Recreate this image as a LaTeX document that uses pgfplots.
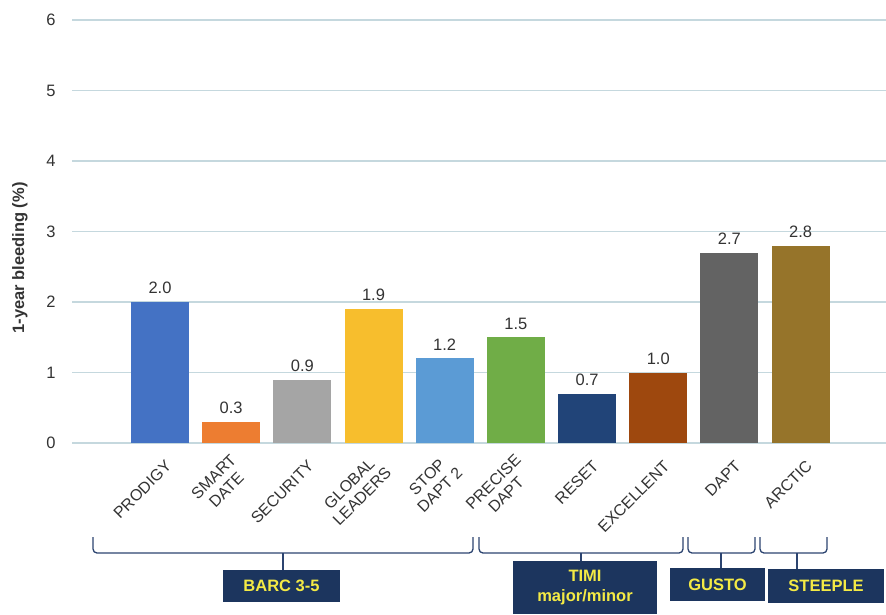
\documentclass[border=0pt]{standalone}
\usepackage{pgfplots}
\pgfplotsset{compat=1.18}
\usepackage{fontspec}
\setmainfont{Liberation Sans}
\definecolor{cA}{HTML}{4472C4}
\definecolor{cB}{HTML}{ED7D31}
\definecolor{cC}{HTML}{A5A5A5}
\definecolor{cD}{HTML}{F7BE2D}
\definecolor{cE}{HTML}{5B9BD5}
\definecolor{cF}{HTML}{70AD47}
\definecolor{cG}{HTML}{214478}
\definecolor{cH}{HTML}{9E480E}
\definecolor{cI}{HTML}{636363}
\definecolor{cJ}{HTML}{96742A}
\definecolor{gridc}{HTML}{C5D8DE}
\definecolor{txt}{HTML}{333333}
\definecolor{boxc}{HTML}{1C355E}
\definecolor{boxt}{HTML}{F4EA45}
\definecolor{brk}{HTML}{2C4470}
\begin{document}
\begin{tikzpicture}
\useasboundingbox (0pt,0pt) rectangle (886pt,-614pt);
\begin{axis}[at={(72pt,-443pt)}, anchor=south west, scale only axis,
  width=814pt, height=423pt,
  xmin=-1.236, xmax=10.2, ymin=0, ymax=6,
  ytick={0,1,2,3,4,5,6},
  xtick={0,1,2,3,4,5,6,7,8,9},
  xticklabels={PRODIGY,{SMART\\DATE},SECURITY,{GLOBAL\\LEADERS},{STOP\\DAPT 2},{PRECISE\\DAPT},RESET,EXCELLENT,DAPT,ARCTIC},
  ymajorgrids, grid style={gridc, line width=1.2pt},
  axis line style={draw=none}, major tick length=0pt,
  yticklabel style={font=\fontsize{16.5}{18}\selectfont, text=txt, xshift=-13pt},
  xticklabel style={font=\fontsize{16}{18}\selectfont, text=txt, align=center,
     xshift=11pt, yshift=-18pt, rotate=45, anchor=east},
  /pgf/number format/assume math mode=true,
  ybar, bar width=58pt,
  nodes near coords, nodes near coords align={vertical},
  every node near coord/.append style={font=\fontsize{16.5}{19}\selectfont, text=txt, yshift=4.5pt,
     /pgf/number format/fixed, /pgf/number format/fixed zerofill, /pgf/number format/precision=1},
  clip=false,
]
\addplot[fill=cA, draw=none, bar shift=0pt] coordinates {(0,2.0)};
\addplot[fill=cB, draw=none, bar shift=0pt] coordinates {(1,0.3)};
\addplot[fill=cC, draw=none, bar shift=0pt] coordinates {(2,0.9)};
\addplot[fill=cD, draw=none, bar shift=0pt] coordinates {(3,1.9)};
\addplot[fill=cE, draw=none, bar shift=0pt] coordinates {(4,1.2)};
\addplot[fill=cF, draw=none, bar shift=0pt] coordinates {(5,1.5)};
\addplot[fill=cG, draw=none, bar shift=0pt] coordinates {(6,0.7)};
\addplot[fill=cH, draw=none, bar shift=0pt] coordinates {(7,1.0)};
\addplot[fill=cI, draw=none, bar shift=0pt] coordinates {(8,2.7)};
\addplot[fill=cJ, draw=none, bar shift=0pt] coordinates {(9,2.8)};
\end{axis}
\begin{scope}[x=1pt,y=-1pt]
\node[rotate=90, font=\fontsize{16.5}{19}\selectfont\bfseries, text=txt] at (20,258) {1-year bleeding (\%)};
\tikzset{br/.style={draw=brk, line width=1.3pt, rounded corners=4pt}}
% BARC
\draw[br] (93,537) -- (93,553) -- (473,553) -- (473,537);
\draw[brk, line width=1.3pt] (283,553) -- (283,570);
\fill[boxc] (223,570) rectangle (340,602);
\node[text=boxt, font=\fontsize{16.5}{19}\selectfont\bfseries] at (281.5,586) {BARC 3-5};
% TIMI
\draw[br] (479,537) -- (479,553) -- (683,553) -- (683,537);
\draw[brk, line width=1.3pt] (581,553) -- (581,561);
\fill[boxc] (513,561) rectangle (657,614);
\node[text=boxt, align=center, font=\fontsize{16.5}{20}\selectfont\bfseries] at (585,587.5) {TIMI\\major/minor};
% GUSTO
\draw[br] (688,537) -- (688,553) -- (755,553) -- (755,537);
\draw[brk, line width=1.3pt] (721,553) -- (721,568);
\fill[boxc] (670,568) rectangle (765,601);
\node[text=boxt, font=\fontsize{16.5}{19}\selectfont\bfseries] at (717.5,584.5) {GUSTO};
% STEEPLE
\draw[br] (760,537) -- (760,553) -- (827,553) -- (827,537);
\draw[brk, line width=1.3pt] (797,553) -- (797,569);
\fill[boxc] (768,569) rectangle (884,603);
\node[text=boxt, font=\fontsize{16.5}{19}\selectfont\bfseries] at (826,586) {STEEPLE};
\end{scope}
\end{tikzpicture}
\end{document}
